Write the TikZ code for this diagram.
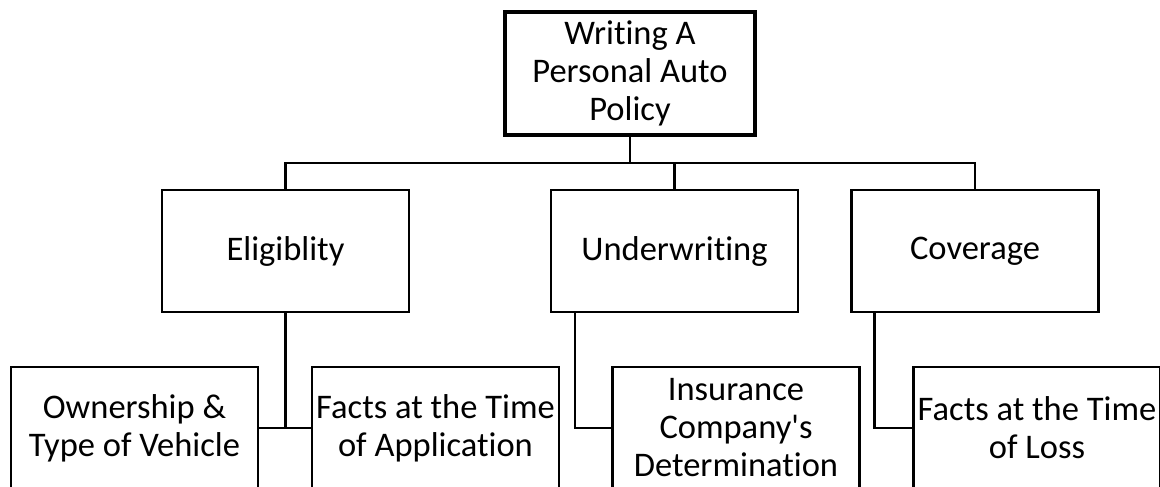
\documentclass[tikz,border=0pt]{standalone}
\usepackage{fontspec}
\setmainfont{Carlito}[Ligatures={TeXOff,NoCommon}]
\usepackage{tikz}
\usetikzlibrary{positioning}
\tikzset{
  box/.style={draw, line width=2.2pt, minimum width=247pt, minimum height=122pt, inner sep=0pt, align=center, font=\fontsize{34.5}{38}\selectfont},
  topbox/.style={box, line width=4.5pt, minimum width=250pt, minimum height=123pt},
  conn/.style={line width=2.2pt}
}

\begin{document}
\begin{tikzpicture}[x=1pt, y=-1pt]
        \clip (0,0) rectangle (1160,487);
        \node[topbox] (Top) at (630,73.5) {Writing A\\Personal Auto\\Policy};
        \node[box] (Elig) at (285.5,251) {Eligiblity};
        \node[box] (Under) at (674.5,251) {Underwriting};
        \node[box] (Cover) at (975,251) {Coverage};
        \node[box] (Own) at (134.5,428) {Ownership \&\\Type of Vehicle};
        \node[box] (FactsApp) at (435.5,428) {Facts at the Time\\of Application};
        \node[box] (Insur) at (736,428) {Insurance\\Company's\\Determination};
        \node[box] (FactsLoss) at (1037,428) {Facts at the Time\\of Loss};
        \coordinate[below=26pt of Top.south] (Bus);

        % edges (top level)
        \draw[conn] (Top.south) -- (Bus);
        \draw[conn] (Elig.north) -- (Elig.north |- Bus) -- (Cover.north |- Bus) -- (Cover.north);
        \draw[conn] (Under.north) -- (Under.north |- Bus);

        % edges (lower level)
        \draw[conn] (Elig.south) -- (Elig.south |- Own.east);
        \draw[conn] (Own.east) -- (FactsApp.west);
        \draw[conn] ([xshift=25pt]Under.south west) |- (Insur.west);
        \draw[conn] ([xshift=24pt]Cover.south west) |- (FactsLoss.west);
    \end{tikzpicture}
\end{document}
